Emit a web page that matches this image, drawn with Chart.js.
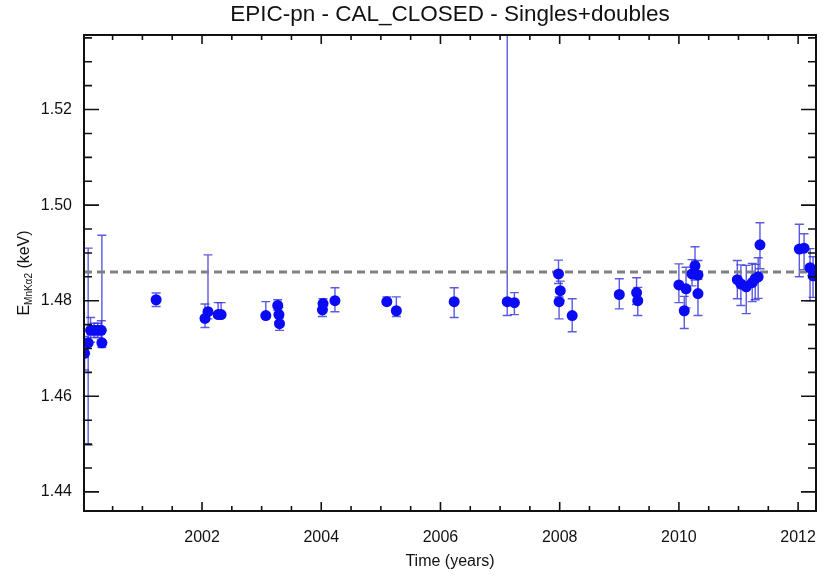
<!DOCTYPE html>
<html>
<head>
<meta charset="utf-8">
<script src="https://cdn.jsdelivr.net/npm/chart.js@4.4.1/dist/chart.umd.min.js"></script>
<style>
  html, body { margin: 0; padding: 0; background: #fff; }
  canvas { display: block; }
</style>
</head>
<body>
<canvas id="calChart" width="827" height="580"></canvas>
<script>
// Mn K-alpha2 line energy over time, singles+doubles
const years = [
  2000.03, 2000.09, 2000.13, 2000.19, 2000.25, 2000.31, 2000.32,
  2001.23,
  2002.05, 2002.10, 2002.27, 2002.32,
  2003.07, 2003.27, 2003.29, 2003.30,
  2004.02, 2004.03, 2004.23,
  2005.10, 2005.26,
  2006.23,
  2007.12, 2007.24,
  2007.98, 2007.99, 2008.01, 2008.21,
  2009.00, 2009.29, 2009.31,
  2010.00, 2010.09, 2010.12, 2010.22, 2010.27, 2010.32, 2010.32,
  2010.98, 2011.04, 2011.13, 2011.23, 2011.28, 2011.33, 2011.36,
  2012.02, 2012.10, 2012.20, 2012.25
];
const energies = [
  1.4690, 1.4712, 1.4738, 1.4738, 1.4738, 1.4738, 1.4712,
  1.4802,
  1.4763, 1.4777, 1.4771, 1.4771,
  1.4769, 1.4790, 1.4771, 1.4752,
  1.4781, 1.4794, 1.4800,
  1.4798, 1.4779,
  1.4798,
  1.4798, 1.4796,
  1.4856, 1.4798, 1.4821, 1.4769,
  1.4813, 1.4817, 1.4800,
  1.4833, 1.4779, 1.4825, 1.4856, 1.4873, 1.4854, 1.4815,
  1.4844, 1.4835, 1.4829, 1.4838, 1.4846, 1.4850, 1.4917,
  1.4908, 1.4910, 1.4869, 1.4852
];
const errLow = [
  0.0035, 0.0214, 0.0025, 0.0015, 0.0015, 0.0020, 0.0010,
  0.0014,
  0.0019, 0.0015, 0.0005, 0.0005,
  0.0003, 0.0010, 0.0015, 0.0014,
  0.0014, 0.0012, 0.0023,
  0.0005, 0.0012,
  0.0033,
  0.0029, 0.0025,
  0.0020, 0.0036, 0.0020, 0.0034,
  0.0030, 0.0025, 0.0031,
  0.0037, 0.0037, 0.0040, 0.0025, 0.0030, 0.0040, 0.0046,
  0.0040, 0.0045, 0.0056, 0.0040, 0.0044, 0.0045, 0.0050,
  0.0058, 0.0045, 0.0069, 0.0045
];
const errHigh = [
  0.0035, 0.0198, 0.0027, 0.0015, 0.0015, 0.0020, 0.0225,
  0.0014,
  0.0030, 0.0119, 0.0025, 0.0025,
  0.0029, 0.0012, 0.0015, 0.0012,
  0.0013, 0.0010, 0.0027,
  0.0010, 0.0029,
  0.0029,
  0.0700, 0.0021,
  0.0029, 0.0010, 0.0020, 0.0035,
  0.0033, 0.0031, 0.0028,
  0.0044, 0.0030, 0.0045, 0.0030, 0.0040, 0.0030, 0.0030,
  0.0040, 0.0040, 0.0045, 0.0040, 0.0030, 0.0040, 0.0046,
  0.0052, 0.0030, 0.0040, 0.0040
];
const meanLevel = 1.486;
const xRange = [2000.02, 2012.30];
const yRange = [1.436, 1.5356];
const xMajorStep = 2, xMinorStep = 0.5;
const yMajorStep = 0.02, yMinorStep = 0.005;

const FONT = "'Liberation Sans', Arial, Helvetica, sans-serif";

const points = years.map((t, i) => ({ x: t, y: energies[i] }));

// vertical error bars with caps, drawn under the markers
const errorBars = {
  id: 'errorBars',
  beforeDatasetsDraw(chart) {
    const { ctx, chartArea: a, scales: { x, y } } = chart;
    ctx.save();
    ctx.beginPath();
    ctx.rect(a.left, a.top, a.right - a.left, a.bottom - a.top);
    ctx.clip();
    ctx.strokeStyle = 'rgba(50, 50, 215, 0.8)';
    ctx.lineWidth = 1.4;
    years.forEach((t, i) => {
      const px = x.getPixelForValue(t);
      const y0 = y.getPixelForValue(energies[i] - errLow[i]);
      const y1 = y.getPixelForValue(energies[i] + errHigh[i]);
      ctx.beginPath();
      ctx.moveTo(px, y0);
      ctx.lineTo(px, y1);
      ctx.moveTo(px - 4.5, y0);
      ctx.lineTo(px + 4.5, y0);
      ctx.moveTo(px - 4.5, y1);
      ctx.lineTo(px + 4.5, y1);
      ctx.stroke();
    });
    ctx.restore();
  }
};

// box frame with inward ticks on all four sides, plus the y title
const frame = {
  id: 'frame',
  afterDraw(chart) {
    const { ctx, chartArea: a, scales: { x, y } } = chart;
    ctx.save();
    ctx.strokeStyle = '#111';
    ctx.lineWidth = 1.6;

    const tick = (x0, y0, x1, y1) => { ctx.moveTo(x0, y0); ctx.lineTo(x1, y1); };
    ctx.beginPath();
    const xStart = Math.ceil(xRange[0] / xMinorStep) * xMinorStep;
    for (let v = xStart; v <= xRange[1] + 1e-9; v += xMinorStep) {
      const px = x.getPixelForValue(v);
      const major = Math.abs(v / xMajorStep - Math.round(v / xMajorStep)) < 1e-6;
      const len = major ? 9 : 5;
      tick(px, a.bottom, px, a.bottom - len);
      tick(px, a.top, px, a.top + len);
    }
    const yStart = Math.ceil(yRange[0] / yMinorStep - 1e-6) * yMinorStep;
    for (let v = yStart; v <= yRange[1] + 1e-9; v += yMinorStep) {
      const py = y.getPixelForValue(v);
      const major = Math.abs(v / yMajorStep - Math.round(v / yMajorStep)) < 1e-6;
      const len = major ? 15 : 8;
      tick(a.left, py, a.left + len, py);
      tick(a.right, py, a.right - len, py);
    }
    ctx.stroke();

    ctx.lineWidth = 2;
    ctx.strokeRect(a.left, a.top, a.right - a.left, a.bottom - a.top);

    // E with MnKα2 subscript, rotated
    ctx.fillStyle = '#111';
    ctx.translate(23, (a.top + a.bottom) / 2);
    ctx.rotate(-Math.PI / 2);
    ctx.textBaseline = 'alphabetic';
    const big = '16px ' + FONT, small = '10px ' + FONT;
    ctx.font = big;
    const wE = ctx.measureText('E').width;
    const wRest = ctx.measureText(' (keV)').width;
    ctx.font = small;
    const wSub = ctx.measureText('MnKα2').width;
    let cx = -(wE + wSub + wRest) / 2;
    const base = 6;
    ctx.font = big;
    ctx.fillText('E', cx, base);
    cx += wE;
    ctx.font = small;
    ctx.fillText('MnKα2', cx, base + 3);
    cx += wSub;
    ctx.font = big;
    ctx.fillText(' (keV)', cx, base);
    ctx.restore();
  }
};

new Chart(document.getElementById('calChart'), {
  type: 'scatter',
  data: {
    datasets: [
      {
        data: points,
        order: 1,
        pointRadius: 5.5,
        pointHoverRadius: 5.5,
        pointBackgroundColor: '#0a0af5',
        pointBorderColor: '#0a0af5',
        pointBorderWidth: 0
      },
      {
        type: 'line',
        order: 2,
        data: [{ x: xRange[0], y: meanLevel }, { x: xRange[1], y: meanLevel }],
        borderColor: '#808080',
        borderWidth: 3,
        borderDash: [8, 5],
        pointRadius: 0,
        fill: false
      }
    ]
  },
  options: {
    responsive: false,
    animation: false,
    devicePixelRatio: 1,
    layout: { padding: { top: 0, right: 11, bottom: 0, left: 0 } },
    plugins: {
      legend: { display: false },
      tooltip: { enabled: false },
      title: {
        display: true,
        fullSize: false,
        text: 'EPIC-pn - CAL_CLOSED - Singles+doubles',
        color: '#111',
        font: { family: FONT, size: 22.5, weight: 'normal' },
        padding: { top: 1, bottom: 7 }
      }
    },
    scales: {
      x: {
        type: 'linear',
        min: xRange[0],
        max: xRange[1],
        grid: { display: false, drawTicks: false },
        border: { display: false },
        ticks: {
          stepSize: xMajorStep,
          includeBounds: false,
          color: '#111',
          padding: 17,
          font: { family: FONT, size: 16 },
          maxRotation: 0,
          callback: v => String(Math.round(v))
        },
        title: {
          display: true,
          text: 'Time (years)',
          color: '#111',
          font: { family: FONT, size: 16 },
          padding: { top: 0, bottom: 9 }
        },
        afterFit(scale) {
          scale.height = 69;
          scale.paddingLeft = 0;
          scale.paddingRight = 0;
        }
      },
      y: {
        type: 'linear',
        min: yRange[0],
        max: yRange[1],
        grid: { display: false, drawTicks: false },
        border: { display: false },
        ticks: {
          stepSize: yMajorStep,
          includeBounds: false,
          color: '#111',
          padding: 12,
          font: { family: FONT, size: 16 },
          callback: v => v.toFixed(2)
        },
        afterFit(scale) {
          scale.width = 84;
          scale.paddingTop = 0;
          scale.paddingBottom = 0;
        }
      }
    }
  },
  plugins: [errorBars, frame]
});
</script>
</body>
</html>
